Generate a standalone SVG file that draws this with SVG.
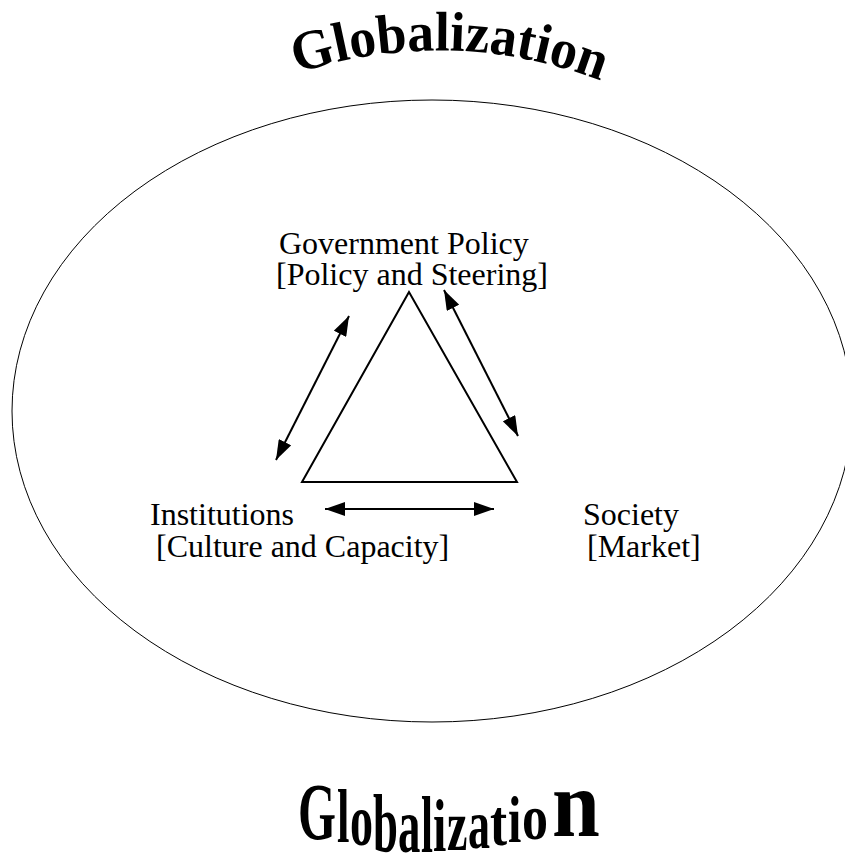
<svg xmlns="http://www.w3.org/2000/svg" width="845" height="860" viewBox="0 0 845 860">
<style>
.lbl{font-family:"Liberation Serif","Times New Roman",serif;font-size:32px;fill:#000}
.arc{font-family:"Liberation Serif","Times New Roman",serif;font-weight:bold;font-size:56px;fill:#000}
.bt{font-family:"Liberation Serif","Times New Roman",serif;font-weight:bold;font-size:40px;fill:#000}
.ln{stroke:#000;stroke-width:2;fill:none}
</style>
<defs>
<marker id="ah2" viewBox="0 0 20 14" refX="20" refY="7" markerWidth="20" markerHeight="14" markerUnits="userSpaceOnUse" orient="auto-start-reverse">
<path d="M0 0 L20 7 L0 14 Z" fill="#000"/>
</marker>
<path id="arcPath" d="M 297 73.5 A 448 448 0 0 1 606 83"/>
</defs>
<rect width="845" height="860" fill="#fff"/>
<g id="globalization-top">
<text class="arc"><textPath href="#arcPath" textLength="310" lengthAdjust="spacingAndGlyphs">Globalization</textPath></text>
</g>
<g id="context-ellipse">
<ellipse cx="432" cy="411" rx="420" ry="311" fill="none" stroke="#000" stroke-width="1"/>
</g>
<g id="triangle">
<polygon points="409,292 302,482 517,482" class="ln"/>
</g>
<g id="government-policy">
<text class="lbl" x="279" y="254">Government Policy</text>
<text class="lbl" x="276" y="285">[Policy and Steering]</text>
</g>
<g id="institutions">
<text class="lbl" x="150" y="525">Institutions</text>
<text class="lbl" x="156" y="557">[Culture and Capacity]</text>
</g>
<g id="society">
<text class="lbl" x="583" y="525">Society</text>
<text class="lbl" x="587" y="557">[Market]</text>
</g>
<g id="connectors">
<line x1="349" y1="316" x2="276" y2="460" class="ln" marker-start="url(#ah2)" marker-end="url(#ah2)"/>
<line x1="444" y1="290" x2="518" y2="436" class="ln" marker-start="url(#ah2)" marker-end="url(#ah2)"/>
<line x1="325" y1="509" x2="494" y2="509" class="ln" marker-start="url(#ah2)" marker-end="url(#ah2)"/>
</g>
<g id="globalization-bottom">
<text class="bt" transform="translate(298,839) scale(1.22,2.0)">G</text>
<text class="bt" transform="translate(337,842) scale(1.12,1.92)">l</text>
<text class="bt" transform="translate(350,845) scale(1.15,1.85)">o</text>
<text class="bt" transform="translate(373,851) scale(1.12,2.07)">b</text>
<text class="bt" transform="translate(398,852) scale(1.12,1.95)">a</text>
<text class="bt" transform="translate(421,852) scale(1.08,2.03)">l</text>
<text class="bt" transform="translate(433,851) scale(1.2,1.85)">i</text>
<text class="bt" transform="translate(447,850) scale(1.15,1.8)">z</text>
<text class="bt" transform="translate(468,848) scale(1.1,1.75)">a</text>
<text class="bt" transform="translate(490,845) scale(1.28,1.65)">t</text>
<text class="bt" transform="translate(508,842) scale(1.2,1.65)">i</text>
<text class="bt" transform="translate(522,839) scale(1.3,1.6)">o</text>
<text class="bt" transform="translate(552,836) scale(2.15,2.4)">n</text>
</g>
</svg>
